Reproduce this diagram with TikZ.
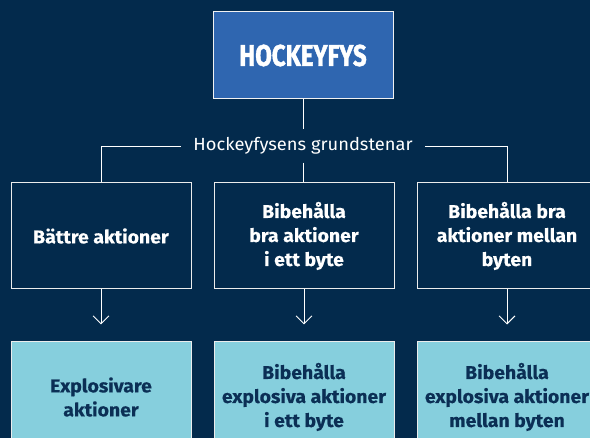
\documentclass[tikz,border=0pt]{standalone}
\usepackage{fontspec}
\setmainfont[Ligatures=NoCommon,FakeStretch=1.05,BoldFeatures={FakeBold=0.4}]{Fira Sans}
\newfontfamily\lblfont[Ligatures=NoCommon,FakeStretch=1.04]{Fira Sans}
\newfontfamily\titlefont[FakeStretch=0.8,FakeBold=1.4]{Fira Sans}
\usetikzlibrary{arrows.meta,positioning}
\definecolor{bgnavy}{HTML}{032A4C}
\definecolor{topblue}{HTML}{2F66B0}
\definecolor{lightblue}{HTML}{86CFDD}
\definecolor{darktext}{HTML}{0B2F55}
\tikzset{
  conn/.style={draw=white, line width=0.9pt},
  arr/.style={conn, -{Straight Barb[length=8pt,width=16pt,line width=0.9pt]}, shorten >=17pt},
  topbox/.style={draw=white!90!gray, line width=1pt, fill=topblue, minimum width=180pt, minimum height=87pt, text=white, font=\titlefont\bfseries\fontsize{30}{32}\selectfont},
  midbox/.style={draw=white!85!gray, line width=1pt, fill=bgnavy, minimum width=180pt, minimum height=106pt, text=white, align=center, font=\bfseries\fontsize{18.5}{24}\selectfont},
  lowbox/.style={draw=white!85!gray, line width=1pt, fill=lightblue, minimum width=180pt, minimum height=110pt, text=darktext, align=center, font=\bfseries\fontsize{18.5}{24}\selectfont},
  lbl/.style={text=white, font=\lblfont\fontsize{17.6}{18}\selectfont, inner xsep=12pt, inner ysep=8pt}
}
\begin{document}
\begin{tikzpicture}[x=1pt,y=1pt]
\useasboundingbox (0,0) rectangle (590,-438);
\fill[bgnavy] (0,0) rectangle (590,-438);
\clip (0,0) rectangle (590,-438);
\node[topbox] (top) at (303,-55.5) {HOCKEYFYS};
\node[lbl] (lab) at (303,-146) {Hockeyfysens grundstenar};
\node[midbox] (m1) at (101,-236) {Bättre aktioner};
\node[midbox] (m2) at (304,-236) {Bibehålla\\bra aktioner\\i ett byte};
\node[midbox] (m3) at (507,-236) {Bibehålla bra\\aktioner mellan\\byten};
\node[lowbox] (l1) at (101,-397) {Explosivare\\aktioner};
\node[lowbox] (l2) at (304,-397) {Bibehålla\\explosiva aktioner\\i ett byte};
\node[lowbox] (l3) at (507,-397) {Bibehålla\\explosiva aktioner\\mellan byten};
\draw[conn] (top.south -| lab.north) -- (lab.north);
\draw[conn] (lab.south) -- (lab.south |- m2.north);
\draw[conn] (lab.west) -| (m1.north);
\draw[conn] (lab.east) -| (m3.north);
\draw[arr] (m1.south) -- (l1.north);
\draw[arr] (m2.south) -- (l2.north);
\draw[arr] (m3.south) -- (l3.north);
\end{tikzpicture}
\end{document}
